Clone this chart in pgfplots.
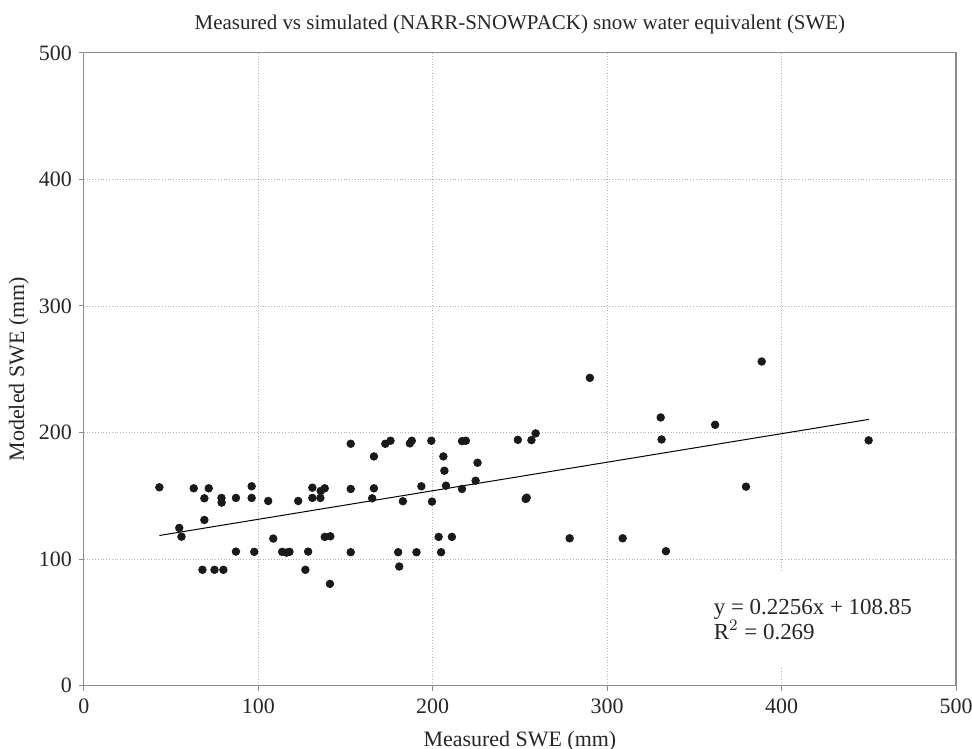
\documentclass[border=0pt]{standalone}
\usepackage{pgfplots}
\pgfplotsset{compat=1.18}
\usepackage{fontspec}
\setmainfont{Liberation Serif}
\definecolor{axgray}{HTML}{8C8C8C}
\definecolor{gridgray}{HTML}{B4B4B4}
\definecolor{dotc}{HTML}{1A1A1A}
\begin{document}
\begin{tikzpicture}
\begin{axis}[
  name=main,
  scale only axis,
  width=437pt, height=317pt,
  xmin=0, xmax=500, ymin=0, ymax=500,
  xtick={0,100,...,500}, ytick={0,100,...,500},
  axis line style={axgray, line width=0.6pt},
  tick style={axgray, line width=0.5pt},
  tick align=outside, major tick length=2.5pt,
  xtick pos=bottom, ytick pos=left,
  grid=major,
  major grid style={gridgray, densely dotted, line width=0.45pt},
  /pgf/number format/assume math mode=true,
  ticklabel style={font=\fontsize{11}{13}\selectfont, text=black!85},
  xticklabel style={yshift=-0.5pt},
  xlabel={Measured SWE (mm)},
  ylabel={Modeled SWE (mm)},
  label style={font=\fontsize{11}{13}\selectfont, text=black!85},
  xlabel style={at={(axis description cs:0.5,-0.088)}, anchor=center},
  ylabel style={at={(axis description cs:-0.0745,0.5)}, anchor=center},
  title={Measured vs simulated (NARR-SNOWPACK) snow water equivalent (SWE)},
  every axis title/.style={font=\fontsize{10.5}{12}\selectfont, text=black!85,
               at={(axis description cs:0.5,1.0442)}, anchor=center},
  clip=false,
]
\addplot[only marks, mark=*, mark size=1.9pt, mark options={fill=dotc, draw=dotc}] table {
x y
43.3 156.7
63.0 155.9
71.6 155.9
69.1 148.0
78.9 148.3
79.0 144.6
87.2 148.3
96.2 157.5
96.2 148.3
105.7 145.9
69.1 130.9
54.7 124.6
56.0 117.7
108.6 116.2
87.2 105.9
97.7 105.7
113.7 105.7
68.0 91.5
74.9 91.5
80.0 91.5
122.9 145.9
131.0 156.4
131.0 148.3
135.6 148.3
135.8 153.8
138.1 155.9
153.0 191.1
153.0 155.4
166.3 181.1
166.3 155.9
165.3 148.0
172.8 191.1
175.8 193.5
186.9 191.4
188.0 193.5
182.9 145.7
193.5 157.5
199.2 193.5
199.6 145.4
206.1 181.1
206.7 169.8
207.6 158.0
216.8 193.2
219.0 193.5
216.8 155.4
116.2 105.1
117.9 105.7
128.6 105.9
127.0 91.5
138.1 117.5
141.3 118.0
141.1 80.4
153.0 105.4
180.2 105.4
180.8 94.1
190.7 105.4
203.4 117.5
204.8 105.4
211.0 117.5
225.7 176.1
224.6 161.9
248.8 194.2
256.6 194.0
259.0 199.3
253.3 147.5
253.9 148.5
290.1 243.2
278.5 116.4
308.9 116.4
330.7 211.9
331.2 194.5
333.7 106.2
361.9 206.1
379.6 157.2
388.6 256.1
449.9 193.8
};
\addplot[black, line width=0.5pt] coordinates {(43.3,118.62) (450,210.37)};
\node[fill=white, anchor=west, align=left, inner xsep=3pt, inner ysep=14pt,
      font=\fontsize{11.5}{12.5}\selectfont, text=black!85]
  at (axis cs:357.5,52.4) {y = 0.2256x + 108.85\\R$^{2}$ = 0.269};
\end{axis}
\pgfresetboundingbox
\path (main.south west) ++(-42pt,-31.5pt) rectangle ++(487pt,375pt);
\end{tikzpicture}
\end{document}
